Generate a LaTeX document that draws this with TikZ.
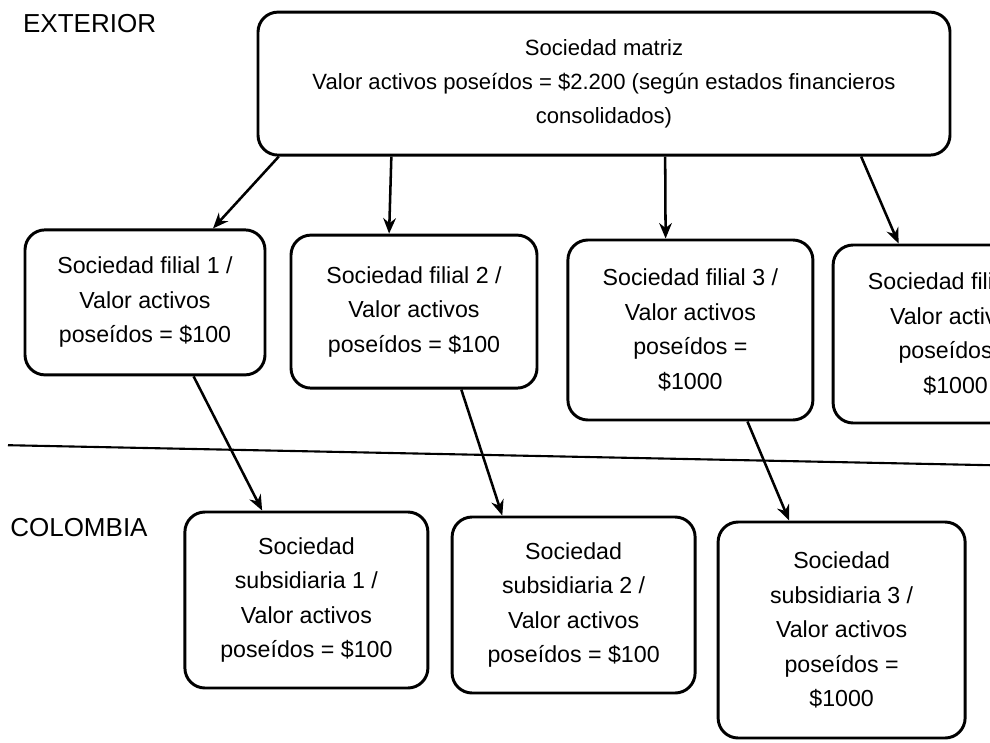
\documentclass[tikz,border=0pt]{standalone}
\usepackage{fontspec}
\setmainfont{Liberation Sans}
\usepackage{tikz}
\usetikzlibrary{arrows.meta, calc}

\begin{document}
\begin{tikzpicture}[
  soc/.style={draw, rounded corners=0.5cm, line width=2.1pt, align=center, inner sep=2pt, font=\fontsize{16.5}{24.5}\selectfont},
  arr/.style={line width=1.8pt, -{Stealth[length=11pt, width=9pt]}},
  zone/.style={anchor=west, inner sep=0pt, font=\fontsize{18.5}{20}\selectfont},
]
  \useasboundingbox (0,0) rectangle (24.75,18.55);
  \clip (0,0) rectangle (24.75,18.55);

  % Zones
  \node[zone] (ext) at (0.57,17.95) {EXTERIOR};
  \node[zone] (col) at (0.25,5.37) {COLOMBIA};
  \draw[line width=1.5pt] (0.2,7.42) -- (24.75,6.92);

  % Parent company
  \node[soc, minimum width=17.3cm, minimum height=3.575cm, font=\fontsize{15.7}{24}\selectfont] (matriz) at (15.1,16.46)
    {Sociedad matriz\\Valor activos poseídos = \$2.200 (según estados financieros\\consolidados)};

  % Affiliates abroad
  \node[soc, minimum width=6cm, minimum height=3.625cm] (fil1) at (3.625,10.99)
    {Sociedad filial 1 /\\Valor activos\\poseídos = \$100};
  \node[soc, minimum width=6.15cm, minimum height=3.825cm] (fil2) at (10.35,10.76)
    {Sociedad filial 2 /\\Valor activos\\poseídos = \$100};
  \node[soc, minimum width=6.125cm, minimum height=4.5cm] (fil3) at (17.26,10.3)
    {Sociedad filial 3 /\\Valor activos\\poseídos =\\\$1000};
  \node[soc, minimum width=6.125cm, minimum height=4.45cm] (fil4) at (23.89,10.2)
    {Sociedad filial 4 /\\Valor activos\\poseídos =\\\$1000};

  % Subsidiaries in Colombia
  \node[soc, minimum width=6.075cm, minimum height=4.4cm] (sub1) at (7.66,3.55)
    {Sociedad\\subsidiaria 1 /\\Valor activos\\poseídos = \$100};
  \node[soc, minimum width=6.075cm, minimum height=4.4cm] (sub2) at (14.34,3.425)
    {Sociedad\\subsidiaria 2 /\\Valor activos\\poseídos = \$100};
  \node[soc, minimum width=6.175cm, minimum height=5.4cm] (sub3) at (21.04,2.8)
    {Sociedad\\subsidiaria 3 /\\Valor activos\\poseídos =\\\$1000};

  % Ownership arrows
  \draw[arr] ($(matriz.south west)!0.032!(matriz.south east)$) -- ($(fil1.north west)!0.78!(fil1.north east)$);
  \draw[arr] ($(matriz.south west)!0.194!(matriz.south east)$) -- ($(fil2.north west)!0.40!(fil2.north east)$);
  \draw[arr] ($(matriz.south west)!0.588!(matriz.south east)$) -- ($(fil3.north west)!0.40!(fil3.north east)$);
  \draw[arr] ($(matriz.south west)!0.87!(matriz.south east)$) -- ($(fil4.north west)!0.27!(fil4.north east)$);

  \draw[arr] ($(fil1.south west)!0.70!(fil1.south east)$) -- ($(sub1.north west)!0.32!(sub1.north east)$);
  \draw[arr] ($(fil2.south west)!0.69!(fil2.south east)$) -- ($(sub2.north west)!0.21!(sub2.north east)$);
  \draw[arr] ($(fil3.south west)!0.73!(fil3.south east)$) -- ($(sub3.north west)!0.29!(sub3.north east)$);
\end{tikzpicture}
\end{document}
